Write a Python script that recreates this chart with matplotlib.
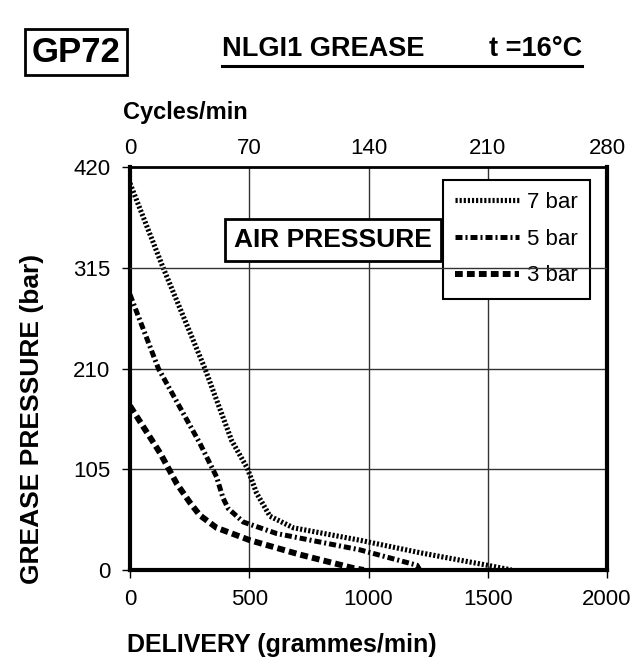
import matplotlib.pyplot as plt

plt.rcParams['font.family'] = ['Liberation Sans', 'DejaVu Sans']

# delivery (g/min) vs grease pressure (bar)
x_7bar = [0, 134, 314, 426, 492, 531, 587, 685, 964, 1216, 1497, 1600]
y_7bar = [403, 318, 210, 135, 106, 80, 56, 44, 31, 18, 5, 0]

x_5bar = [0, 119, 293, 363, 390, 412, 475, 615, 964, 1203, 1215]
y_5bar = [287, 210, 132, 97, 75, 64, 50, 38, 21, 5, 0]

x_3bar = [0, 126, 196, 252, 293, 363, 503, 713, 936, 980]
y_3bar = [171, 122, 90, 70, 57, 44, 31, 16, 2, 0]

x_ticks = [0, 500, 1000, 1500, 2000]
y_ticks = [0, 105, 210, 315, 420]
cycle_ticks = [0, 70, 140, 210, 280]

W, H = 634, 667


def fx(px):
    return px / W


def fy(py):
    return 1 - py / H


fig = plt.figure(figsize=(W / 100, H / 100), dpi=100)
ax = fig.add_axes([fx(130), fy(570), 477 / W, 403 / H])

ax.plot(x_7bar, y_7bar, color='black', lw=3.7, linestyle=(0, (0.42, 0.38)),
        label='7 bar', zorder=3)
ax.plot(x_5bar, y_5bar, color='black', lw=3.6, linestyle=(0, (1.4, 0.6, 0.4, 0.6)),
        label='5 bar', zorder=3)
ax.plot(x_3bar, y_3bar, color='black', lw=4.3, linestyle=(0, (1.3, 0.7)),
        label='3 bar', zorder=3)

ax.set_xlim(0, 2000)
ax.set_ylim(0, 420)
ax.set_xticks(x_ticks)
ax.set_yticks(y_ticks)
ax.tick_params(axis='both', labelsize=16, length=6, width=1, direction='out', pad=8)

# grid
for v in x_ticks[1:-1]:
    ax.axvline(v, color='#333333', lw=1.0, zorder=1)
for v in [105, 210]:
    ax.axhline(v, color='#333333', lw=1.0, zorder=1)
ax.axhline(315, color='#333333', lw=1.0, zorder=6)

for s in ['left', 'bottom', 'right']:
    ax.spines[s].set_linewidth(3)
ax.spines['top'].set_linewidth(2)

# top axis: cycles/min
ax2 = ax.twiny()
ax2.set_xlim(0, 280)
ax2.set_xticks(cycle_ticks)
ax2.tick_params(axis='x', labelsize=16, length=0, pad=6)
for s in ax2.spines.values():
    s.set_visible(False)

leg = ax.legend(loc='upper right', bbox_to_anchor=(fx(590), fy(180)),
                bbox_transform=fig.transFigure, fontsize=16, frameon=True,
                fancybox=False, edgecolor='black', framealpha=1,
                handlelength=2.9, handletextpad=0.35, labelspacing=0.7,
                borderpad=0.55, borderaxespad=0)
leg.get_frame().set_linewidth(1.5)
leg.set_zorder(5)

ax.text(851, 344, 'AIR PRESSURE', fontsize=19, fontweight='bold',
        ha='center', va='center', zorder=7,
        bbox=dict(boxstyle='square,pad=0.35', fc='white', ec='black', lw=2))

# labels
fig.text(fx(123), fy(112), 'Cycles/min', fontsize=17, fontweight='bold',
         ha='left', va='center')
fig.text(fx(127), fy(645), 'DELIVERY (grammes/min)', fontsize=18,
         fontweight='bold', ha='left', va='center')
fig.text(fx(32), fy(419), 'GREASE PRESSURE (bar)', fontsize=19,
         fontweight='bold', rotation=90, ha='center', va='center')

# header
fig.text(fx(76), fy(52), 'GP72', fontsize=25, fontweight='bold',
         ha='center', va='center',
         bbox=dict(boxstyle='square,pad=0.2', fc='white', ec='black', lw=2))
fig.text(fx(222), fy(49), 'NLGI1 GREASE', fontsize=19.5, fontweight='bold',
         ha='left', va='center')
fig.text(fx(582), fy(49), 't =16°C', fontsize=19.5, fontweight='bold',
         ha='right', va='center')
fig.add_artist(plt.Line2D([fx(222), fx(582)], [fy(66), fy(66)],
                          color='black', lw=2.2, transform=fig.transFigure))

fig.savefig('out.png', dpi=100)
